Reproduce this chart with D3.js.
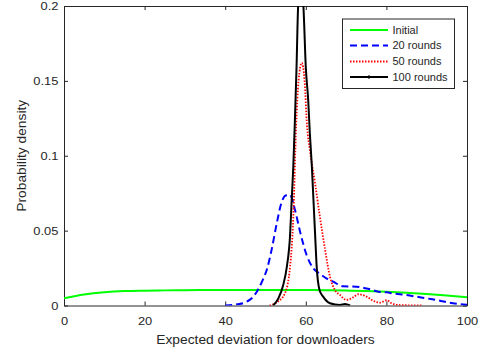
<!DOCTYPE html>
<html><head><meta charset="utf-8">
<script src="https://cdn.jsdelivr.net/npm/d3@7"></script>
<style>
body{margin:0;background:#fff;}
text{font-family:"Liberation Sans",Arial,Helvetica,sans-serif;}
</style></head>
<body><svg id="c" width="485" height="353"></svg>
<script>
// ---- data ----
const xTicks = [0, 20, 40, 60, 80, 100];
const yTicks = [0, 0.05, 0.1, 0.15, 0.2];
const yTickLabels = ["0", "0.05", "0.1", "0.15", "0.2"];
const seriesNames = ["Initial", "20 rounds", "50 rounds", "100 rounds"];

const initialX = [0, 5, 10, 15, 20, 25, 30, 35, 40, 45, 50, 55, 60, 65, 70, 75, 80, 85, 90, 95, 100];
const initialY = [0.0048, 0.0073, 0.0088, 0.0096, 0.0099, 0.0101, 0.0102, 0.0103, 0.0103, 0.0103, 0.0103, 0.0103, 0.0103, 0.0102, 0.0100, 0.0097, 0.0092, 0.0085, 0.0077, 0.0067, 0.0055];

const r20X = [40, 43, 45.3, 47, 48.1, 49.3, 50.3, 51.5, 52.8, 54.0, 55.0, 56.1, 57.3, 58.6, 60.2, 61.8, 63.5, 65.2, 66.8, 69.2, 72.6, 75.9, 78.4, 80.1, 81.6, 85.0, 88.3, 91, 93.3, 96.5, 100];
const r20Y = [0, 0.0008, 0.0025, 0.006, 0.0104, 0.017, 0.0237, 0.037, 0.055, 0.069, 0.0735, 0.0738, 0.064, 0.049, 0.0337, 0.025, 0.0212, 0.018, 0.0159, 0.0128, 0.0125, 0.0108, 0.0090, 0.0088, 0.0081, 0.0070, 0.0055, 0.0043, 0.0032, 0.0015, 0.0005];

const r50X = [51, 53, 54.8, 56.1, 56.9, 57.6, 58.2, 59.0, 59.7, 60.3, 61.0, 62.3, 63.5, 64.8, 66.0, 67.2, 68.5, 70.1, 71.8, 73.0, 75.1, 76.7, 78.4, 80.1, 81.3, 83.4, 89];
const r50Y = [0, 0.0025, 0.008, 0.026, 0.059, 0.12, 0.15, 0.162, 0.15, 0.12, 0.104, 0.0816, 0.0593, 0.037, 0.0192, 0.0104, 0.007, 0.0037, 0.0055, 0.0075, 0.0059, 0.0032, 0.0019, 0.0035, 0.0015, 0.0003, 0];

const r100X = [51.9, 53.2, 54.4, 55.3, 56.1, 56.5, 56.9, 57.3, 57.7, 58.1, 58.7, 59.4, 60.0, 60.6, 61.0, 61.5, 61.9, 62.3, 62.7, 63.4, 64.3, 66.0, 68.5, 69.7, 71];
const r100Y = [0, 0.0048, 0.0137, 0.026, 0.047, 0.0705, 0.093, 0.124, 0.159, 0.20, 0.215, 0.20, 0.159, 0.137, 0.115, 0.093, 0.0705, 0.048, 0.026, 0.0104, 0.0059, 0.0015, 0.0003, 0.001, 0];

// ---- layout ----
const svg = d3.select("#c");
const L = 64, R = 467, T = 6, B = 305.5;
const x = d3.scaleLinear().domain([0, 100]).range([L, R]);
const y = d3.scaleLinear().domain([0, 0.2]).range([B, T]);
const axisCol = "#262626";

svg.append("defs").append("clipPath").attr("id", "clip")
  .append("rect").attr("x", L).attr("y", T).attr("width", R - L).attr("height", B - T);

const fs = 11.5, sx = 1.12;
const gx = svg.append("g").attr("transform", `translate(0,${B})`)
  .call(d3.axisBottom(x).tickValues(xTicks).tickSizeInner(-4).tickSizeOuter(0).tickPadding(11));
const gxt = svg.append("g").attr("transform", `translate(0,${T})`)
  .call(d3.axisTop(x).tickValues(xTicks).tickSizeInner(-4).tickSizeOuter(0).tickFormat(""));
const gy = svg.append("g").attr("transform", `translate(${L},0)`)
  .call(d3.axisLeft(y).tickValues(yTicks).tickSizeInner(-4).tickSizeOuter(0).tickPadding(5)
    .tickFormat((d, i) => yTickLabels[i]));
const gyr = svg.append("g").attr("transform", `translate(${R},0)`)
  .call(d3.axisRight(y).tickValues(yTicks).tickSizeInner(-4).tickSizeOuter(0).tickFormat(""));
[gx, gxt, gy, gyr].forEach(g => {
  g.selectAll("path").attr("stroke", axisCol).attr("stroke-width", 1);
  g.selectAll("line").attr("stroke", axisCol).attr("stroke-width", 1);
  g.selectAll("text").attr("fill", axisCol).attr("font-size", fs)
    .attr("font-family", "Liberation Sans, Arial, sans-serif")
    .attr("transform", `scale(${sx},1)`);
});

// lines
const line = d3.line().x(d => x(d[0])).y(d => y(d[1])).curve(d3.curveMonotoneX);
const plot = svg.append("g").attr("clip-path", "url(#clip)");
const zip = (a, b) => a.map((v, i) => [v, b[i]]);
const styles = [
  {data: zip(initialX, initialY), color: "#00ff00", w: 2, dash: null},
  {data: zip(r20X, r20Y), color: "#0000ff", w: 2, dash: "7,4"},
  {data: zip(r50X, r50Y), color: "#ff0000", w: 1.8, dash: "1.5,1.5"},
  {data: zip(r100X, r100Y), color: "#000000", w: 2, dash: null}
];
styles.forEach(s => {
  plot.append("path").datum(s.data).attr("d", line).attr("fill", "none")
    .attr("stroke", s.color).attr("stroke-width", s.w)
    .attr("stroke-dasharray", s.dash);
});

// axis titles
svg.append("text").attr("transform", `translate(${(L + R) / 2},343.5) scale(1.15,1)`)
  .attr("text-anchor", "middle").attr("font-size", 12).attr("fill", axisCol)
  .text("Expected deviation for downloaders");
svg.append("text").attr("transform", `translate(25.5,${(T + B) / 2}) rotate(-90) scale(1.15,1)`)
  .attr("text-anchor", "middle").attr("font-size", 12).attr("fill", axisCol)
  .text("Probability density");

// legend
const lg = svg.append("g");
lg.append("rect").attr("x", 342.5).attr("y", 19).attr("width", 112).attr("height", 69.5)
  .attr("fill", "#fff").attr("stroke", axisCol).attr("stroke-width", 1);
const ly = [30, 45.5, 61.5, 77];
styles.forEach((s, i) => {
  lg.append("line").attr("x1", 350).attr("x2", 388).attr("y1", ly[i]).attr("y2", ly[i])
    .attr("stroke", s.color).attr("stroke-width", s.w).attr("stroke-dasharray", s.dash);
  lg.append("text").attr("x", 392.5).attr("y", ly[i]).attr("dy", "0.35em")
    .attr("font-size", 11).attr("fill", axisCol).text(seriesNames[i]);
});
lg.append("line").attr("x1", 369).attr("x2", 369).attr("y1", ly[3] - 2).attr("y2", ly[3] + 2)
  .attr("stroke", "#000").attr("stroke-width", 1);
</script></body></html>
